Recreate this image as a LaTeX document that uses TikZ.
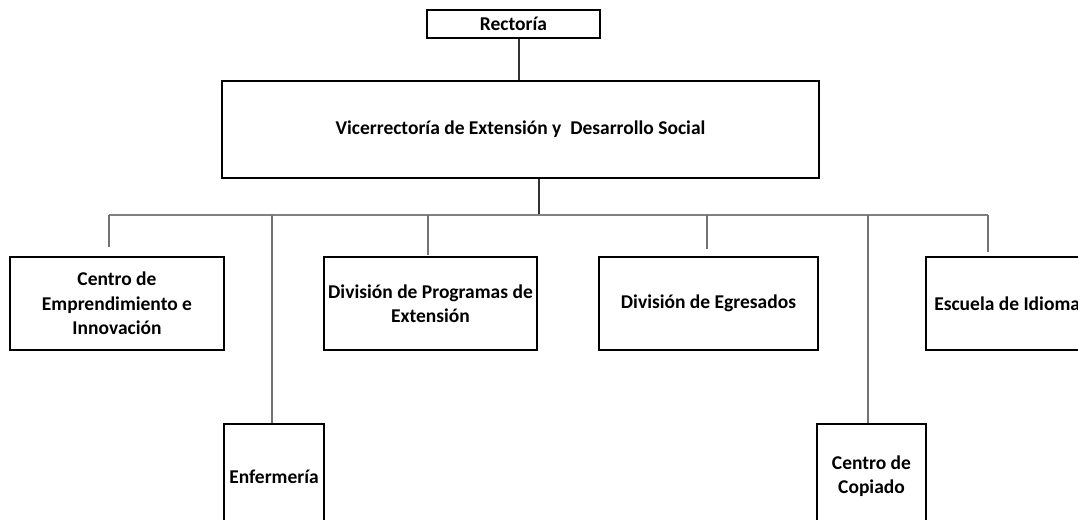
\documentclass[tikz,border=0pt]{standalone}
\usepackage{fontspec}
\setmainfont{Carlito}
\begin{document}
\begin{tikzpicture}[x=1pt,y=-1pt,
  box/.style={draw=black,line width=2.4pt,fill=white,inner sep=0pt,align=center,
    font=\fontsize{19.5}{24.5}\selectfont\bfseries},
  conn/.style={draw=black!55,line width=1.3pt},
  mainconn/.style={draw=black!80,line width=1.3pt},
  busline/.style={draw=black!50,line width=2pt}]
\useasboundingbox (0,0) rectangle (1078,519);
\node[box,minimum width=173pt,minimum height=28pt] (rect) at (513.5,24) {Rectoría};
\node[box,minimum width=597pt,minimum height=97pt] (vice) at (520.5,129.5) {Vicerrectoría de Extensión y\ \ Desarrollo Social};
\node[box,minimum width=214pt,minimum height=93pt] (centro) at (117,303.5) {Centro de\\Emprendimiento e\\Innovación};
\node[box,minimum width=213pt,minimum height=93pt] (progr) at (430.5,303.5) {División de Programas de\\Extensión};
\node[box,minimum width=219pt,minimum height=93pt] (egres) at (708.5,303.5) {División de Egresados};
\node[box,minimum width=170pt,minimum height=93pt] (escuela) at (1011,303.5) {Escuela de Idiomas};
\node[box,minimum width=100pt,minimum height=106pt] (enf) at (274,477) {Enfermería};
\node[box,minimum width=109pt,minimum height=104pt] (copia) at (871.5,476) {Centro de\\Copiado};
\coordinate (rx) at (519,0);
\coordinate (busL) at (109,215);
\coordinate (busR) at (988,215);
\coordinate (busM) at (539,215);
\coordinate (bEnf) at (272,215);
\coordinate (bProg) at (428,215);
\coordinate (bEgr) at (707,215);
\coordinate (bCop) at (868,215);
\draw[mainconn] (rect.south -| rx) -- (vice.north -| rx);
\draw[mainconn] (vice.south -| busM) -- (busM);
\draw[busline] (busL) -- (busR);
\draw[conn] (busL) -- ([yshift=9pt]centro.north -| busL);
\draw[conn] (bEnf) -- (enf.north -| bEnf);
\draw[conn] (bProg) -- ([yshift=1pt]progr.north -| bProg);
\draw[conn] (bEgr) -- ([yshift=7pt]egres.north -| bEgr);
\draw[conn] (bCop) -- (copia.north -| bCop);
\draw[conn] (busR) -- ([yshift=4pt]escuela.north -| busR);
\end{tikzpicture}
\end{document}
